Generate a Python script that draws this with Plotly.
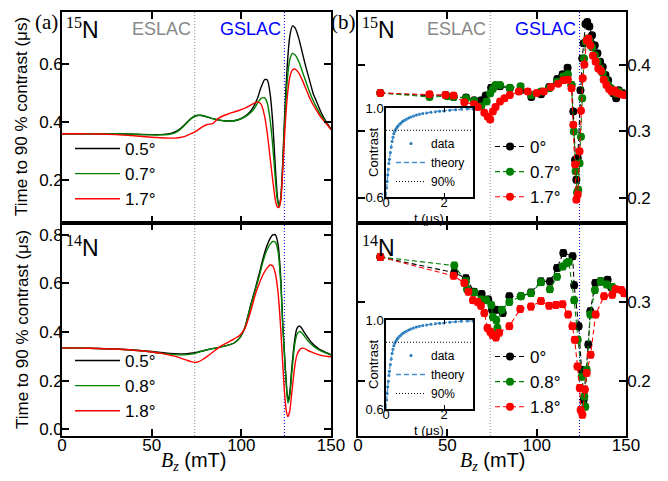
import plotly.graph_objects as go

W, H = 668, 481
OX, OY = 7, 8          # page offset of the plot div inside the browser window
def px(x): return (x - OX) / W
def py(y): return 1 - (y - OY) / H

# ---------------- (a) theory, 15N ----------------
b_theory_15 = [0, 10, 20, 30, 40, 50, 55, 60, 63, 66, 69, 72, 75, 78, 81, 84, 87, 90, 93, 96, 99,
               102, 105, 107, 109, 111, 113, 114.5, 116, 117.5, 119, 120, 121, 122, 123, 124, 125,
               126, 127, 128.5, 130, 132, 134, 136, 138, 140, 142, 144, 146, 148, 150]
t15_05 = [0.360, 0.360, 0.360, 0.360, 0.358, 0.357, 0.357, 0.360, 0.366, 0.378, 0.395, 0.413, 0.423,
          0.423, 0.418, 0.412, 0.408, 0.405, 0.404, 0.405, 0.410, 0.420, 0.437, 0.455, 0.482, 0.520,
          0.547, 0.545, 0.500, 0.400, 0.240, 0.150, 0.110, 0.140, 0.250, 0.400, 0.530, 0.630, 0.695,
          0.732, 0.725, 0.690, 0.640, 0.590, 0.545, 0.500, 0.470, 0.440, 0.415, 0.395, 0.375]
t15_07 = [0.360, 0.360, 0.360, 0.360, 0.358, 0.356, 0.356, 0.358, 0.363, 0.375, 0.393, 0.412, 0.422,
          0.423, 0.418, 0.412, 0.408, 0.405, 0.404, 0.405, 0.410, 0.418, 0.432, 0.445, 0.465, 0.482,
          0.484, 0.465, 0.410, 0.320, 0.200, 0.135, 0.108, 0.135, 0.240, 0.380, 0.490, 0.570, 0.615,
          0.637, 0.632, 0.610, 0.575, 0.540, 0.505, 0.475, 0.450, 0.428, 0.410, 0.392, 0.375]
t15_17 = [0.360, 0.360, 0.359, 0.357, 0.353, 0.348, 0.346, 0.345, 0.345, 0.347, 0.352, 0.360, 0.370,
          0.383, 0.392, 0.395, 0.412, 0.422, 0.429, 0.435, 0.441, 0.448, 0.458, 0.465, 0.470, 0.462,
          0.420, 0.360, 0.280, 0.200, 0.130, 0.108, 0.106, 0.130, 0.220, 0.340, 0.440, 0.510, 0.555,
          0.580, 0.583, 0.570, 0.545, 0.515, 0.485, 0.460, 0.440, 0.420, 0.405, 0.390, 0.375]

# ---------------- (a) theory, 14N ----------------
b_theory_14 = [0, 10, 20, 30, 40, 50, 55, 60, 65, 70, 72, 74, 76, 78, 81, 84, 87, 90, 93, 96, 99,
               102, 105, 108, 110, 112, 114, 116, 117.5, 119, 120.5, 122, 123, 124, 125, 126, 127,
               128, 129, 130, 131, 132.3, 133.5, 135, 137, 139, 141, 143, 146, 150]
t14_05 = [0.335, 0.334, 0.332, 0.330, 0.326, 0.320, 0.316, 0.312, 0.310, 0.311, 0.313, 0.315, 0.318,
          0.322, 0.327, 0.332, 0.336, 0.341, 0.347, 0.355, 0.375, 0.420, 0.505, 0.585, 0.640, 0.700,
          0.750, 0.785, 0.800, 0.800, 0.760, 0.620, 0.450, 0.320, 0.200, 0.115, 0.150, 0.240, 0.320,
          0.380, 0.415, 0.425, 0.418, 0.400, 0.378, 0.358, 0.343, 0.332, 0.320, 0.306]
t14_08 = [0.335, 0.334, 0.332, 0.330, 0.325, 0.318, 0.313, 0.309, 0.306, 0.307, 0.309, 0.312, 0.316,
          0.321, 0.327, 0.332, 0.336, 0.341, 0.347, 0.355, 0.375, 0.418, 0.500, 0.578, 0.630, 0.688,
          0.733, 0.762, 0.773, 0.770, 0.730, 0.600, 0.440, 0.310, 0.190, 0.108, 0.135, 0.220, 0.300,
          0.360, 0.390, 0.402, 0.398, 0.385, 0.365, 0.350, 0.338, 0.328, 0.317, 0.305]
t14_18 = [0.335, 0.334, 0.332, 0.330, 0.325, 0.318, 0.313, 0.305, 0.296, 0.283, 0.278, 0.275, 0.277,
          0.285, 0.300, 0.317, 0.334, 0.348, 0.360, 0.372, 0.386, 0.415, 0.480, 0.560, 0.600, 0.635,
          0.660, 0.676, 0.672, 0.640, 0.560, 0.410, 0.280, 0.160, 0.080, 0.052, 0.075, 0.140, 0.210,
          0.270, 0.305, 0.325, 0.333, 0.333, 0.325, 0.318, 0.312, 0.307, 0.302, 0.298]

# ---------------- (b) data, 15N ----------------
b15_0 = [12.5, 40, 49, 53.5, 60.5, 65, 69, 71.5, 74.5, 77, 79.5, 85, 91, 97, 102.5, 107, 111.5, 114.5,
         117.3, 119.5, 120.5, 121.5, 122.2, 123, 124.5, 125.5, 126.3, 127.3, 128.3, 129.5, 131, 132.5,
         134, 135.5, 137, 138.5, 140, 141.5, 143, 144.5, 146, 148]
v15_0 = [0.358, 0.354, 0.355, 0.352, 0.351, 0.347, 0.347, 0.354, 0.366, 0.369, 0.368, 0.365, 0.362,
         0.352, 0.356, 0.367, 0.379, 0.386, 0.396, 0.370, 0.330, 0.257, 0.227, 0.260, 0.362, 0.410,
         0.433, 0.462, 0.465, 0.458, 0.445, 0.430, 0.418, 0.405, 0.397, 0.385, 0.377, 0.365, 0.357,
         0.350, 0.362, 0.358]
b15_07 = [12.5, 40, 50, 53.5, 60.5, 65, 69, 72, 74, 75.5, 77, 79.5, 85, 91, 97, 102.5, 107, 111.5,
          115, 117.5, 119.5, 120.8, 121.8, 122.6, 123.3, 124, 124.8, 125.5, 126.5, 127.5, 128.5, 129.5,
          131, 132.5, 134, 135.5, 137, 138.5, 140, 141.5, 143, 144.5, 146, 148]
v15_07 = [0.358, 0.352, 0.353, 0.352, 0.350, 0.346, 0.338, 0.345, 0.357, 0.364, 0.370, 0.370, 0.366,
          0.368, 0.355, 0.360, 0.365, 0.375, 0.383, 0.386, 0.370, 0.300, 0.240, 0.208, 0.212, 0.252,
          0.292, 0.350, 0.410, 0.435, 0.440, 0.437, 0.427, 0.415, 0.405, 0.395, 0.388, 0.378, 0.370,
          0.365, 0.360, 0.357, 0.360, 0.356]
b15_17 = [12.5, 40, 49, 53.5, 59.5, 65, 67, 70.7, 72.6, 74, 75.5, 77, 79.5, 82, 85, 90, 95, 100, 104,
          108, 112, 115, 117.5, 119.5, 120.5, 121.5, 122.2, 123, 124, 124.8, 125.8, 126.7, 128, 129,
          130, 131.5, 133, 134.5, 136, 137.5, 139, 140.5, 142, 143.5, 145, 147, 149]
v15_17 = [0.358, 0.356, 0.355, 0.354, 0.344, 0.341, 0.337, 0.328, 0.322, 0.318, 0.330, 0.337, 0.345,
          0.350, 0.355, 0.360, 0.360, 0.358, 0.360, 0.367, 0.372, 0.377, 0.378, 0.365, 0.310, 0.250,
          0.197, 0.205, 0.270, 0.331, 0.380, 0.401, 0.437, 0.440, 0.430, 0.414, 0.405, 0.395, 0.391,
          0.378, 0.370, 0.364, 0.360, 0.362, 0.358, 0.356, 0.355]

# ---------------- (b) data, 14N ----------------
b14_0 = [12.5, 53.9, 60.4, 65, 69.2, 72.9, 75, 77.2, 81, 84.7, 91.2, 96.8, 102.4, 107.4, 111.4, 114.9,
         120.1, 121, 123.5, 125.2, 126.3, 128.9, 130, 132.8, 135.8, 139.7, 141.6]
v14_0 = [0.357, 0.337, 0.330, 0.313, 0.310, 0.303, 0.290, 0.290, 0.286, 0.307, 0.307, 0.312, 0.326,
         0.326, 0.343, 0.362, 0.358, 0.321, 0.269, 0.214, 0.176, 0.246, 0.288, 0.324, 0.326, 0.328,
         0.319]
b14_08 = [12.5, 53.9, 60.4, 61, 65, 69, 71.8, 74.6, 75.5, 77.4, 78, 80.5, 84.7, 91.2, 96.8, 102.4,
          107.4, 111.4, 114.6, 116.7, 118, 121, 123, 125.2, 126.7, 127.2, 128, 130, 132.6, 135.8,
          139.2, 142.3]
v14_08 = [0.357, 0.346, 0.326, 0.316, 0.312, 0.303, 0.302, 0.296, 0.281, 0.277, 0.267, 0.290, 0.300,
          0.307, 0.311, 0.325, 0.316, 0.332, 0.345, 0.349, 0.351, 0.302, 0.252, 0.205, 0.180, 0.167,
          0.214, 0.284, 0.315, 0.326, 0.322, 0.319]
b14_18 = [12.5, 53.5, 59.5, 61.8, 64.3, 67, 68.8, 70.7, 72.5, 74, 75.3, 77.2, 79, 84.7, 90.8, 96.8,
          102.4, 107, 110.8, 114.5, 117.6, 120, 121.3, 122.8, 124.1, 124.6, 125.6, 127, 128, 130.2,
          133, 137.7, 142.3, 144.2, 147.4, 148.9]
v14_18 = [0.357, 0.333, 0.324, 0.313, 0.302, 0.300, 0.295, 0.286, 0.267, 0.262, 0.258, 0.255, 0.261,
          0.269, 0.291, 0.294, 0.301, 0.295, 0.296, 0.297, 0.284, 0.269, 0.252, 0.218, 0.191, 0.163,
          0.157, 0.189, 0.210, 0.233, 0.284, 0.307, 0.309, 0.316, 0.315, 0.311]
err_bar = 0.004

# ---------------- insets ----------------
inset_t = [0.02, 0.04, 0.06, 0.08, 0.10, 0.12, 0.15, 0.18, 0.21, 0.24, 0.27, 0.30, 0.34, 0.38, 0.42,
           0.47, 0.52, 0.58, 0.64, 0.70, 0.78, 0.86, 0.95, 1.05, 1.15, 1.27, 1.4, 1.55, 1.7, 1.85,
           2.0, 2.2, 2.4, 2.6, 2.8, 3.0]
inset_c = [0.64, 0.67, 0.70, 0.725, 0.75, 0.77, 0.80, 0.825, 0.85, 0.868, 0.884, 0.895, 0.905, 0.913,
           0.92, 0.927, 0.933, 0.94, 0.945, 0.95, 0.955, 0.96, 0.964, 0.968, 0.972, 0.975, 0.978,
           0.981, 0.983, 0.985, 0.987, 0.99, 0.992, 0.994, 0.995, 0.996]
theory_t = [0, 0.05, 0.1, 0.15, 0.2, 0.3, 0.4, 0.5, 0.7, 1.0, 1.5, 2.0, 2.5, 3.0]
theory_c = [0.6, 0.685, 0.75, 0.80, 0.84, 0.895, 0.915, 0.928, 0.948, 0.965, 0.98, 0.988, 0.993, 0.996]
threshold_t = [0, 3]
threshold_c = [0.9, 0.9]

eslac_b = 74
gslac_b = 124

# ---------------- figure ----------------
SANS = "Liberation Sans"
SERIF = "Liberation Serif"
fig = go.Figure()

def theory(x, y, name, color, xa, ya, leg):
    fig.add_trace(go.Scatter(x=x, y=y, mode="lines", name=name,
                             line=dict(color=color, width=1.4, shape="spline", smoothing=0.6),
                             xaxis=xa, yaxis=ya, legend=leg))

def data(x, y, name, color, xa, ya, leg):
    fig.add_trace(go.Scatter(x=x, y=y, mode="lines+markers", name=name,
                             line=dict(color=color, width=1.1, dash="5px,3px"),
                             marker=dict(color=color, size=8),
                             error_y=dict(type="constant", value=err_bar, color=color,
                                          thickness=1.2, width=3),
                             xaxis=xa, yaxis=ya, legend=leg))

theory(b_theory_15, t15_05, "0.5°", "black", "x", "y", "legend")
theory(b_theory_15, t15_07, "0.7°", "green", "x", "y", "legend")
theory(b_theory_15, t15_17, "1.7°", "red", "x", "y", "legend")
theory(b_theory_14, t14_05, "0.5°", "black", "x3", "y3", "legend2")
theory(b_theory_14, t14_08, "0.8°", "green", "x3", "y3", "legend2")
theory(b_theory_14, t14_18, "1.8°", "red", "x3", "y3", "legend2")

data(b15_0, v15_0, "0°", "black", "x2", "y2", "legend3")
data(b15_07, v15_07, "0.7°", "green", "x2", "y2", "legend3")
data(b15_17, v15_17, "1.7°", "red", "x2", "y2", "legend3")
data(b14_0, v14_0, "0°", "black", "x4", "y4", "legend4")
data(b14_08, v14_08, "0.8°", "green", "x4", "y4", "legend4")
data(b14_18, v14_18, "1.8°", "red", "x4", "y4", "legend4")

for xa, ya, leg in [("x5", "y5", "legend5"), ("x6", "y6", "legend6")]:
    fig.add_trace(go.Scatter(x=inset_t, y=inset_c, mode="markers", name="data",
                             marker=dict(color="#1f77b4", size=3), xaxis=xa, yaxis=ya, legend=leg))
    fig.add_trace(go.Scatter(x=theory_t, y=theory_c, mode="lines", name="theory",
                             line=dict(color="#4a90cf", width=1.3, dash="5px,3px", shape="spline"),
                             xaxis=xa, yaxis=ya, legend=leg))
    fig.add_trace(go.Scatter(x=threshold_t, y=threshold_c, mode="lines", name="90%",
                             line=dict(color="black", width=1, dash="1px,2px"),
                             xaxis=xa, yaxis=ya, legend=leg))

ax_common = dict(showline=True, linecolor="black", linewidth=1.6, mirror="ticks", ticks="inside",
                 ticklen=7, tickwidth=1.5, tickcolor="black", showgrid=False, zeroline=False,
                 automargin=False, tickfont=dict(family=SANS, size=17, color="black"))

XL = [px(61), px(330)]
XR = [px(357), px(625)]
YT = [py(223), py(12)]
YB = [py(436), py(223)]

xt = dict(range=[0, 150], tickvals=[0, 50, 100, 150], ticklabelstandoff=-7)
fig.update_layout(
    xaxis=dict(**ax_common, **xt, domain=XL, anchor="y", showticklabels=False),
    yaxis=dict(**ax_common, domain=YT, anchor="x", range=[0.052, 0.78], tickvals=[0.2, 0.4, 0.6],
               tickformat=".1f", ticklabelstandoff=-6),
    xaxis2=dict(**ax_common, **xt, domain=XR, anchor="y2", showticklabels=False),
    yaxis2=dict(**ax_common, domain=YT, anchor="x2", range=[0.162, 0.48], tickvals=[0.2, 0.3, 0.4],
                tickformat=".1f", side="right", ticklabelstandoff=-4),
    xaxis3=dict(**ax_common, **xt, domain=XL, anchor="y3"),
    yaxis3=dict(**ax_common, domain=YB, anchor="x3", range=[-0.028, 0.849],
                tickvals=[0, 0.2, 0.4, 0.6, 0.8], tickformat=".1f", ticklabelstandoff=-6),
    xaxis4=dict(**ax_common, **xt, domain=XR, anchor="y4"),
    yaxis4=dict(**ax_common, domain=YB, anchor="x4", range=[0.130, 0.40], tickvals=[0.2, 0.3],
                tickformat=".1f", side="right", ticklabelstandoff=-4),
)

inset_ax = dict(showline=True, linecolor="black", linewidth=1.5, mirror="ticks", ticks="inside",
                ticklen=4, tickwidth=1.2, tickcolor="black", showgrid=False, zeroline=False,
                automargin=False, tickfont=dict(family=SANS, size=13, color="black"))
for i, (y0, y1) in [(5, (197, 108)), (6, (409, 320))]:
    fig.update_layout(**{
        f"xaxis{i}": dict(**inset_ax, domain=[px(385), px(472)], anchor=f"y{i}", range=[0, 3],
                          tickvals=[0, 2], ticklabelstandoff=-7),
        f"yaxis{i}": dict(**inset_ax, domain=[py(y0), py(y1)], anchor=f"x{i}", range=[0.6, 1.0],
                          tickvals=[0.6, 1.0], tickformat=".1f", ticklabelstandoff=-2),
    })

leg_common = dict(xanchor="left", yanchor="top", bgcolor="rgba(0,0,0,0)", tracegroupgap=0,
                  font=dict(family=SANS, size=17, color="black"))
inset_leg = dict(xanchor="left", yanchor="top", bgcolor="rgba(0,0,0,0)", tracegroupgap=0,
                 itemwidth=30, font=dict(family=SANS, size=12, color="black"))
fig.update_layout(
    legend=dict(**leg_common, itemwidth=45, x=px(69), y=py(131)),
    legend2=dict(**leg_common, itemwidth=45, x=px(69), y=py(343)),
    legend3=dict(**leg_common, itemwidth=30, x=px(489), y=py(129)),
    legend4=dict(**leg_common, itemwidth=30, x=px(489), y=py(339)),
    legend5=dict(**inset_leg, x=px(390), y=py(129)),
    legend6=dict(**inset_leg, x=px(390), y=py(341)),
)

shapes = []
for xa, ya in [("x", "y"), ("x2", "y2"), ("x3", "y3"), ("x4", "y4")]:
    shapes.append(dict(type="line", xref=xa, yref=f"{ya} domain", x0=eslac_b, x1=eslac_b, y0=0, y1=1,
                       line=dict(color="#888888", width=1, dash="1px,2px"), layer="below"))
    shapes.append(dict(type="line", xref=xa, yref=f"{ya} domain", x0=gslac_b, x1=gslac_b, y0=0, y1=1,
                       line=dict(color="blue", width=1, dash="1px,2px"), layer="below"))

ann = []
def text(x, y, s, size, color="black", family=SANS, xanchor="left", yanchor="middle", angle=0, xref="paper"):
    ann.append(dict(x=x, y=y, xref=xref, yref="paper", text=s, showarrow=False, xanchor=xanchor,
                    yanchor=yanchor, textangle=angle,
                    font=dict(family=family, size=size, color=color)))

for xa in ["x", "x2"]:
    text(73, py(29), "ESLAC", 18, "#888888", xanchor="right", xref=xa)
    text(123, py(29), "GSLAC", 18, "blue", xanchor="right", xref=xa)

text(px(32), py(22), "(a)", 21, family=SERIF)
text(px(328), py(22), "(b)", 21, family=SERIF)
for x0 in [63, 359]:
    text(px(x0), py(28), f"<span style='font-family:{SERIF}'><sup>15</sup></span>N", 23)
    text(px(x0), py(246), f"<span style='font-family:{SERIF}'><sup>14</sup></span>N", 23)

ytitle = "Time to 90 % contrast (μs)"
text(px(21), py(117), ytitle, 17, xanchor="center", angle=-90)
text(px(21), py(330), ytitle, 17, xanchor="center", angle=-90)
xtitle = f"<span style='font-family:{SERIF}'><i>B</i><sub><i>z</i></sub></span> (mT)"
text(px(193), py(461), xtitle, 20, xanchor="center")
text(px(491), py(461), xtitle, 20, xanchor="center")

for y0 in [218, 430]:
    text(px(428), py(y0), "t (μs)", 13, xanchor="center")
for yc in [152, 364]:
    text(px(372), py(yc), "Contrast", 13, xanchor="center", angle=-90)

fig.update_layout(width=W, height=H, autosize=False,
                  margin=dict(l=0, r=0, t=0, b=0, pad=0, autoexpand=False),
                  paper_bgcolor="white", plot_bgcolor="white",
                  shapes=shapes, annotations=ann, showlegend=True,
                  font=dict(family=SANS, color="black"))

fig.write_html("out.html")
